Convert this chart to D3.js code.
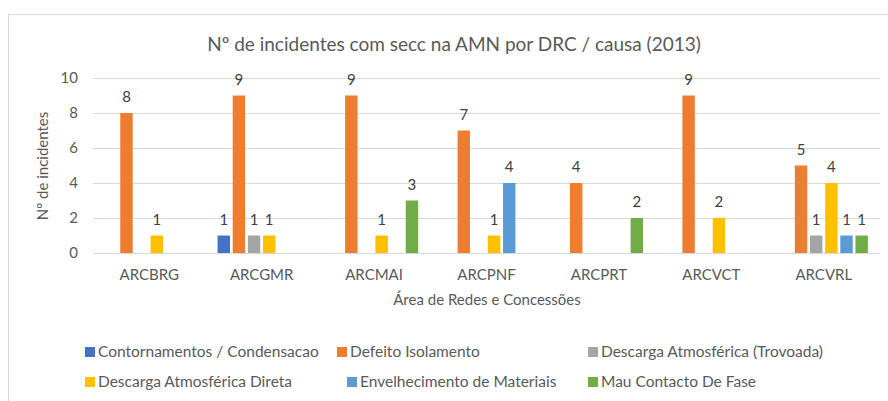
<!DOCTYPE html>
<html><head><meta charset="utf-8">
<script src="https://cdn.jsdelivr.net/npm/d3@7"></script>
<style>body{margin:0;background:#fff}svg{display:block}text{font-family:Lato,"Open Sans",sans-serif}</style>
</head><body><svg id="c" width="888" height="401"></svg>
<script>
const categories = ["ARCBRG","ARCGMR","ARCMAI","ARCPNF","ARCPRT","ARCVCT","ARCVRL"];
const seriesNames = ["Contornamentos / Condensacao","Defeito Isolamento","Descarga Atmosférica (Trovoada)","Descarga Atmosférica Direta","Envelhecimento de Materiais","Mau Contacto De Fase"];
const seriesColors = ["#4472C4","#ED7D31","#A5A5A5","#FFC000","#5B9BD5","#70AD47"];
const contornamentos = [null,1,null,null,null,null,null];
const defeitoIsolamento = [8,9,9,7,4,9,5];
const descargaTrovoada = [null,1,null,null,null,null,1];
const descargaDireta = [1,1,1,1,null,2,4];
const envelhecimento = [null,null,null,4,null,null,1];
const mauContacto = [null,null,3,null,2,null,1];
const yTicks = [0,2,4,6,8,10];
const title = "Nº de incidentes com secc na AMN por DRC / causa (2013)";
const yTitle = "Nº de incidentes";
const xTitle = "Área de Redes e Concessões";

const seriesValues = [contornamentos,defeitoIsolamento,descargaTrovoada,descargaDireta,envelhecimento,mauContacto];
const svg = d3.select("#c");
const txt = "#595959";

// chart border
svg.append("path").attr("d","M8.5,401 L8.5,14.5 L888,14.5").attr("fill","none").attr("stroke","#d9d9d9").attr("stroke-width",1);

const x0 = d3.scaleBand().domain(categories).range([93,880]);
const x1 = d3.scaleBand().domain(d3.range(seriesNames.length)).range([0, 88.2]).paddingInner(0.18);
const y = d3.scaleLinear().domain([0,10]).range([253,78]);

// gridlines
svg.append("g").selectAll("line").data(yTicks).join("line")
  .attr("x1",93).attr("x2",880).attr("y1",d=>Math.round(y(d))+0.5).attr("y2",d=>Math.round(y(d))+0.5)
  .attr("stroke","#d9d9d9").attr("stroke-width",1);

// y axis labels
const yAxis = d3.axisLeft(y).tickValues(yTicks).tickSize(0).tickPadding(0).tickFormat(d3.format("d"));
const ga = svg.append("g").attr("transform","translate(78,0)").call(yAxis);
ga.select(".domain").remove();
ga.selectAll("text").attr("fill",txt).attr("font-size",15).attr("font-family","Lato");

// x axis labels
const xAxis = d3.axisBottom(x0).tickSize(0).tickPadding(0);
const gx = svg.append("g").attr("transform","translate(0,269)").call(xAxis);
gx.select(".domain").remove();
gx.selectAll("text").attr("fill",txt).attr("font-size",15).attr("font-family","Lato");

// bars
const groups = svg.append("g").selectAll("g").data(categories).join("g")
  .attr("transform",c=>`translate(${x0(c)+x0.bandwidth()/2-44.1},0)`);
seriesValues.forEach((vals,si)=>{
  groups.each(function(c,ci){
    const v = vals[ci];
    if(v==null) return;
    const g = d3.select(this);
    g.append("rect").attr("x",x1(si)).attr("width",x1.bandwidth())
      .attr("y",y(v)).attr("height",y(0)-y(v)).attr("fill",seriesColors[si]);
    g.append("text").attr("x",x1(si)+x1.bandwidth()/2).attr("y",y(v)-11)
      .attr("text-anchor","middle").attr("fill","#404040").attr("font-size",15).text(v);
  });
});

// title
svg.append("text").attr("x",454).attr("y",51).attr("text-anchor","middle").attr("fill",txt).attr("font-size",19).text(title);
// y title
svg.append("text").attr("transform","translate(48,166) rotate(-90)").attr("text-anchor","middle").attr("fill",txt).attr("font-size",15).text(yTitle);
// x title
svg.append("text").attr("x",487).attr("y",305).attr("text-anchor","middle").attr("fill",txt).attr("font-size",15).text(xTitle);

// legend
const legX = [85,337,588];
const legY = [352,382];
const leg = svg.append("g").selectAll("g").data(seriesNames).join("g")
  .attr("transform",(d,i)=>`translate(${legX[i%3]+(i===4?10:0)},${legY[Math.floor(i/3)]})`);
leg.append("rect").attr("x",0).attr("y",-5).attr("width",10).attr("height",10).attr("fill",(d,i)=>seriesColors[i]);
leg.append("text").attr("x",13).attr("y",5).attr("fill",txt).attr("font-size",15.5).text(d=>d);
</script></body></html>
